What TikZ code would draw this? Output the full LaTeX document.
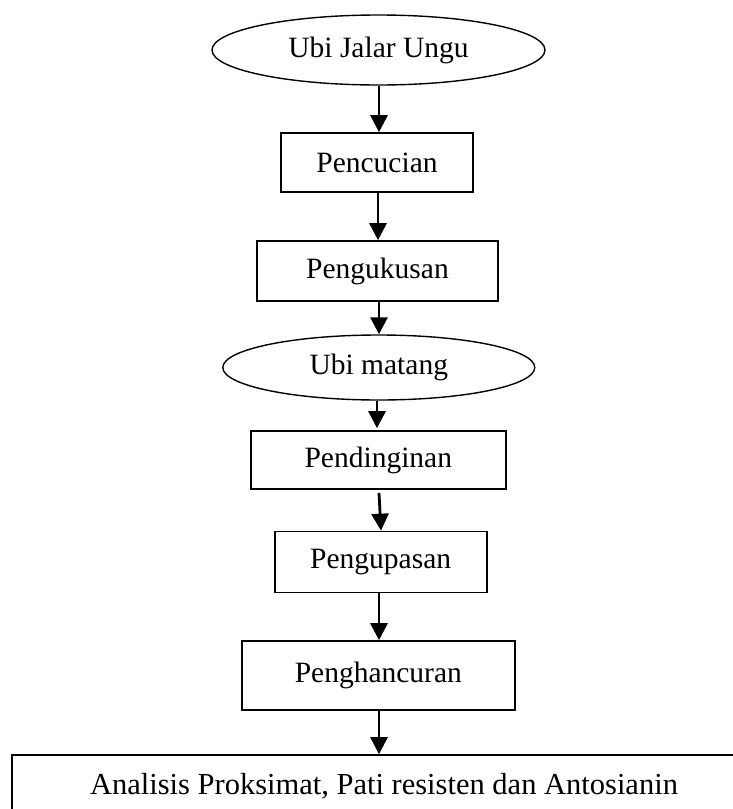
\documentclass[tikz,border=0pt]{standalone}
\usepackage{fontspec}
\setmainfont{Liberation Serif}
\usetikzlibrary{shapes.geometric,arrows.meta}
\begin{document}
\begin{tikzpicture}[x=1pt,y=-1pt,
  every node/.style={font=\fontsize{29.5}{34}\selectfont, inner sep=0pt},
  procbox/.style={draw, rectangle, line width=1.6pt},
  termnode/.style={draw, ellipse, line width=1.4pt},
  flowarrow/.style={line width=2.8pt, -{Triangle[width=17pt,length=17pt]}}]
\useasboundingbox (0,0) rectangle (732,809);
\fill[white] (0,0) rectangle (732,809);
\node[termnode, minimum width=333pt, minimum height=70pt] (e1) at (378.5,50) {Ubi Jalar Ungu};
\node[procbox, minimum width=192pt, minimum height=59pt] (b1) at (377,162.5) {Pencucian};
\node[procbox, minimum width=241pt, minimum height=60pt] (b2) at (377.5,271) {Pengukusan};
\node[termnode, minimum width=312pt, minimum height=65pt] (e2) at (378.8,367.5) {Ubi matang};
\node[procbox, minimum width=255pt, minimum height=58pt] (b3) at (378.3,460) {Pendinginan};
\node[procbox, minimum width=212pt, minimum height=61pt] (b4) at (380.7,562) {Pengupasan};
\node[procbox, minimum width=273pt, minimum height=69pt] (b5) at (378.3,675.5) {Penghancuran};
\node[procbox, minimum width=744pt, minimum height=62pt, font=\fontsize{30.5}{36}\selectfont] (b6) at (384,786) {Analisis Proksimat, Pati resisten dan Antosianin};
\coordinate (a1) at (379,0);
\draw[flowarrow] (e1.south -| a1) -- (b1.north -| a1);
\draw[flowarrow] ([xshift=-1pt]b1.south -| a1) -- ([xshift=-1pt]b2.north -| a1);
\draw[flowarrow] (b2.south -| a1) -- (e2.north -| a1);
\draw[flowarrow] ([xshift=-2pt]e2.south -| a1) -- ([xshift=-2pt,yshift=2pt]b3.north -| a1);
\draw[flowarrow] ([yshift=-3pt]b3.south -| a1) -- ([xshift=2pt]b4.north -| a1);
\draw[flowarrow] (b4.south -| a1) -- (b5.north -| a1);
\draw[flowarrow] (b5.south -| a1) -- (b6.north -| a1);
\end{tikzpicture}
\end{document}
